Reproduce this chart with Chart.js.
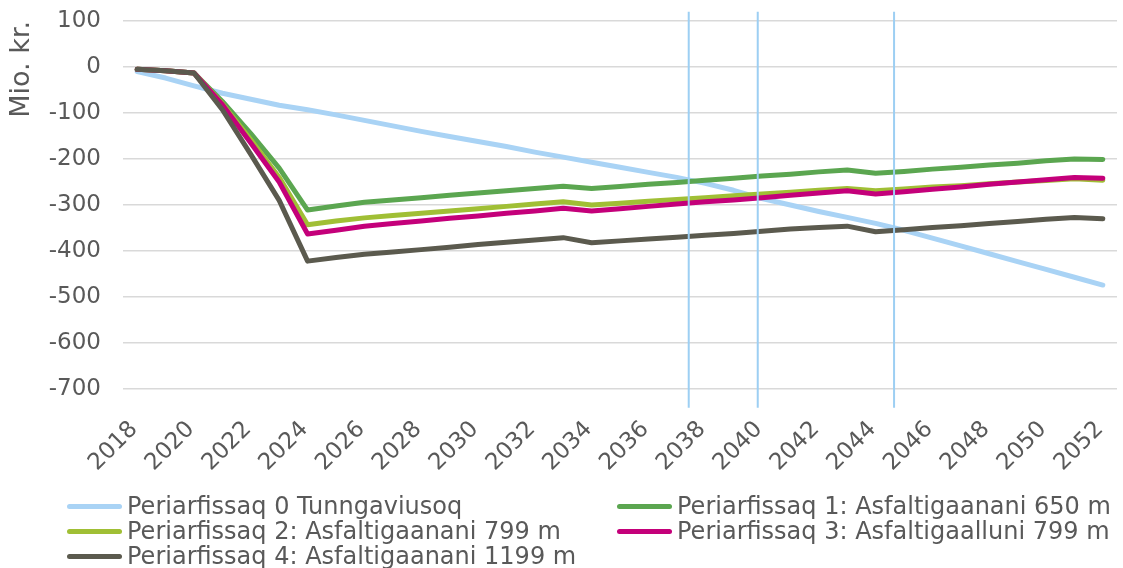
<!DOCTYPE html>
<html>
<head>
<meta charset="utf-8">
<script src="https://cdn.jsdelivr.net/npm/chart.js@4.4.1/dist/chart.umd.min.js"></script>
<style>
  body { margin: 0; background: #fff; }
  #wrap { position: relative; width: 1123px; height: 568px; }
  #legend {
    position: absolute; left: 67px; top: 494px;
    display: grid; grid-template-columns: 550px 500px;
    font-family: "DejaVu Sans", Verdana, sans-serif; font-size: 24px; color: #595959;
    line-height: 25px;
  }
  #legend div { display: flex; align-items: center; white-space: nowrap; }
  #legend span.swatch { display: inline-block; width: 55px; height: 5px; border-radius: 3px; margin-right: 5px; }
</style>
</head>
<body>
<div id="wrap">
  <canvas id="chart" width="1123" height="568"></canvas>
  <div id="legend"></div>
</div>
<script>
// Years (x categories)
const years = [2018, 2019, 2020, 2021, 2022, 2023, 2024, 2025, 2026, 2027, 2028, 2029, 2030, 2031, 2032, 2033, 2034,
  2035, 2036, 2037, 2038, 2039, 2040, 2041, 2042, 2043, 2044, 2045, 2046, 2047, 2048, 2049, 2050, 2051, 2052];
const tickYears = [2018, 2020, 2022, 2024, 2026, 2028, 2030, 2032, 2034, 2036, 2038, 2040, 2042, 2044, 2046, 2048, 2050, 2052];
const yTicks = [100, 0, -100, -200, -300, -400, -500, -600, -700];

// Series (Mio. kr.)
const scenario0 = [-10, -24, -41, -57, -70, -83, -93, -104, -116, -128, -140, -151, -162, -173, -185, -196, -207,
  -218, -229, -240, -253, -268, -286, -300, -314, -327, -340, -355, -372, -389, -406, -423, -440, -457, -474];
const scenario1 = [-5, -8, -13, -75, -145, -220, -311, -302, -294, -289, -284, -279, -274, -269, -264, -259, -264,
  -260, -255, -251, -246, -242, -237, -233, -228, -224, -231, -227, -222, -218, -213, -209, -204, -200, -201];
const scenario2 = [-5, -8, -13, -80, -158, -240, -343, -335, -328, -323, -318, -313, -308, -303, -298, -293, -300,
  -296, -292, -288, -284, -280, -276, -272, -268, -264, -269, -265, -261, -258, -254, -250, -247, -243, -246];
const scenario3 = [-5, -8, -13, -82, -165, -250, -363, -355, -346, -340, -335, -329, -324, -318, -313, -307, -313,
  -308, -303, -298, -293, -289, -284, -279, -274, -269, -276, -271, -266, -261, -255, -250, -245, -240, -242];
const scenario4 = [-5, -8, -13, -93, -190, -290, -422, -414, -407, -402, -397, -392, -386, -381, -376, -371, -382,
  -378, -374, -370, -366, -362, -357, -352, -349, -346, -358, -354, -349, -345, -340, -336, -331, -327, -330];

// Vertical marker lines (x positions in years, y extent)
const markerYears = [2037.42, 2039.85, 2044.65];
const markerSpan = [120, -741];

const seriesNames = [
  'Periarfissaq 0 Tunngaviusoq',
  'Periarfissaq 1: Asfaltigaanani 650 m',
  'Periarfissaq 2: Asfaltigaanani 799 m',
  'Periarfissaq 3: Asfaltigaalluni 799 m',
  'Periarfissaq 4: Asfaltigaanani 1199 m'
];
const seriesValues = [scenario0, scenario1, scenario2, scenario3, scenario4];
const seriesColors = ['#A9D3F5', '#5BA650', '#A0BF35', '#C4007A', '#5B5A4E'];

const textColor = '#595959';
const fontFamily = '"DejaVu Sans", Verdana, sans-serif';

const lineSets = seriesValues.map((vals, i) => ({
  label: seriesNames[i],
  data: vals.map((v, j) => ({ x: years[j], y: v })),
  borderColor: seriesColors[i],
  backgroundColor: seriesColors[i],
  borderWidth: 5,
  pointRadius: 0,
  borderCapStyle: 'round',
  borderJoinStyle: 'round',
  order: seriesValues.length - i
}));

const markerSets = markerYears.map(x => ({
  label: 'marker',
  data: markerSpan.map(y => ({ x: x, y: y })),
  borderColor: '#9DCFF3',
  borderWidth: 2,
  pointRadius: 0,
  clip: false,
  order: 0
}));

new Chart(document.getElementById('chart').getContext('2d'), {
  type: 'line',
  data: { datasets: lineSets.concat(markerSets) },
  options: {
    responsive: false,
    animation: false,
    layout: { padding: { left: 6, right: 6, top: 21, bottom: 79 } },
    plugins: { legend: { display: false }, tooltip: { enabled: false } },
    scales: {
      x: {
        type: 'linear',
        min: 2017.5,
        max: 2052.5,
        afterBuildTicks: axis => { axis.ticks = tickYears.map(v => ({ value: v })); },
        afterFit: axis => { axis.paddingLeft = 0; axis.paddingRight = 0; axis.height = 100; },
        grid: { display: false },
        border: { display: false },
        ticks: {
          color: textColor,
          font: { family: fontFamily, size: 23 },
          maxRotation: 45,
          minRotation: 45,
          autoSkip: false,
          padding: 19,
          labelOffset: -3,
          callback: v => String(v)
        }
      },
      y: {
        min: -700,
        max: 100,
        afterBuildTicks: axis => { axis.ticks = yTicks.map(v => ({ value: v })); },
        afterFit: axis => { axis.paddingTop = 0; axis.paddingBottom = 0; axis.width = 117; },
        grid: { color: '#D9D9D9', lineWidth: 1.5, drawTicks: false },
        border: { display: false },
        title: {
          display: true,
          text: 'Mio. kr.',
          align: 'end',
          color: textColor,
          font: { family: fontFamily, size: 27 },
          padding: { top: 0, bottom: 10 }
        },
        ticks: {
          color: textColor,
          font: { family: fontFamily, size: 23 },
          padding: 22
        }
      }
    }
  }
});

// HTML legend in two columns
const legend = document.getElementById('legend');
seriesNames.forEach((name, i) => {
  const item = document.createElement('div');
  const sw = document.createElement('span');
  sw.className = 'swatch';
  sw.style.background = seriesColors[i];
  item.appendChild(sw);
  item.appendChild(document.createTextNode(name));
  legend.appendChild(item);
});
</script>
</body>
</html>
